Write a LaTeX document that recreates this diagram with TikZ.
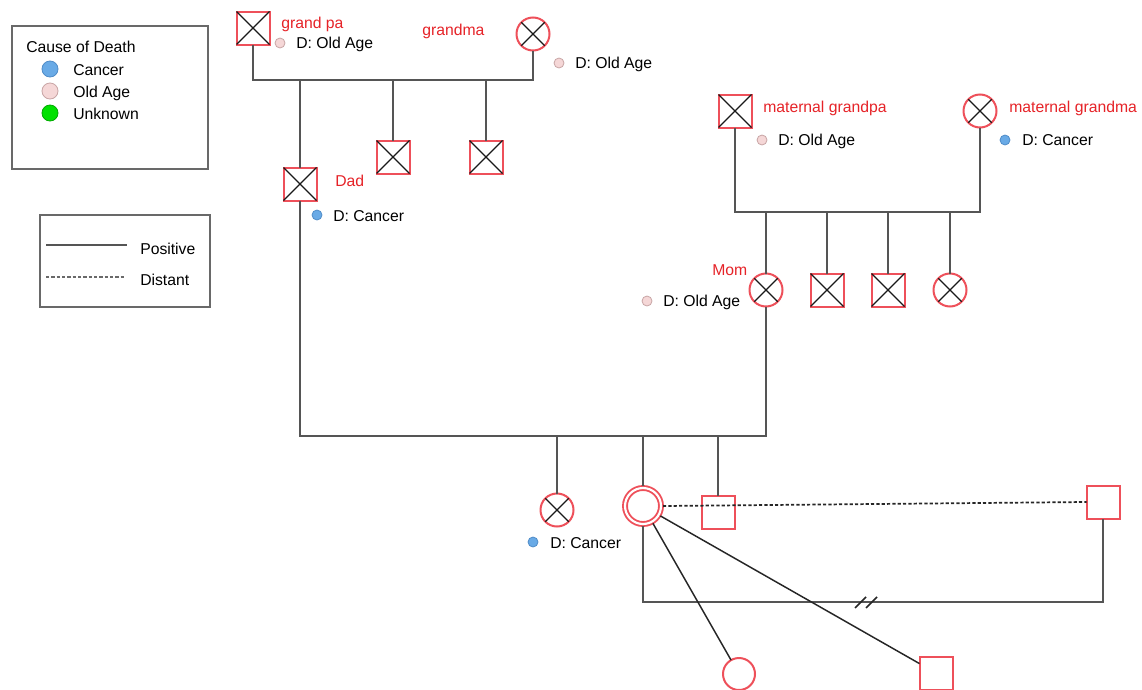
\documentclass[tikz,border=0pt]{standalone}
\usepackage{fontspec}
\setmainfont{Liberation Sans}
\usetikzlibrary{calc}
\definecolor{pedred}{RGB}{238,80,90}
\definecolor{pedtext}{RGB}{230,35,40}
\definecolor{linegray}{RGB}{85,85,85}
\definecolor{boxgray}{RGB}{105,105,105}
\definecolor{cancerblue}{RGB}{105,170,230}
\definecolor{cancerrim}{RGB}{80,140,200}
\definecolor{oldpink}{RGB}{245,215,215}
\definecolor{oldrim}{RGB}{200,165,165}
\definecolor{unkgreen}{RGB}{0,225,0}
\definecolor{unkrim}{RGB}{0,170,0}
\newcommand\crossx[1]{\draw[crossline] (#1.north west) -- (#1.south east) (#1.north east) -- (#1.south west);}
\begin{document}
\begin{tikzpicture}[x=0.75pt,y=-0.75pt,
  person/.style={draw=pedred, line width=1.5pt, inner sep=0pt, outer sep=0pt, minimum size=24.75pt},
  male/.style={person, rectangle},
  female/.style={person, circle},
  proband/.style={circle, draw=pedred, line width=1.4pt, double=white, double distance=1.6pt, inner sep=0pt, outer sep=1.5pt, minimum size=27pt},
  link/.style={draw=linegray, line width=1.5pt},
  distant/.style={draw=black!85, line width=1.3pt, dash pattern=on 2.4pt off 1.6pt},
  crossline/.style={draw=black!90, line width=0.9pt},
  frame/.style={draw=boxgray, line width=1.5pt},
  lbl/.style={anchor=base west, inner sep=0pt, font=\fontsize{11.8}{14}\selectfont, text=black},
  redlbl/.style={lbl, text=pedtext},
  dotc/.style={circle, inner sep=0pt, minimum size=7.5pt, line width=0.6pt, fill=cancerblue, draw=cancerrim},
  doto/.style={dotc, fill=oldpink, draw=oldrim},
  keydot/.style={circle, inner sep=0pt, minimum size=12pt, line width=0.6pt},
]
\useasboundingbox (0,0) rectangle (1142,689);
\fill[white] (0,0) rectangle (1142,689);

% ---------- legends ----------
\draw[frame] (12,26) rectangle (208,169);
\node[lbl] (kt) at (26,52) {Cause of Death};
\node[keydot, fill=cancerblue, draw=cancerrim] (k1) at (50,69) {};
\node[lbl] (k1t) at (73,75) {Cancer};
\node[keydot, fill=oldpink, draw=oldrim] (k2) at (50,91) {};
\node[lbl] (k2t) at (73,97) {Old Age};
\node[keydot, fill=unkgreen, draw=unkrim] (k3) at (50,113) {};
\node[lbl] (k3t) at (73,119) {Unknown};

\draw[frame] (40,215) rectangle (210,307);
\coordinate (l1a) at (46,245); \coordinate (l1b) at (127,245);
\coordinate (l2a) at (46,277); \coordinate (l2b) at (124,277);
\draw[link, line width=1.2pt] (l1a) -- (l1b);
\draw[draw=boxgray, line width=1.1pt, dash pattern=on 2.4pt off 1.6pt] (l2a) -- (l2b);
\node[lbl] (lpt) at (140,254) {Positive};
\node[lbl] (ldt) at (140,285) {Distant};

% ---------- people ----------
\node[male] (gp) at (253,28) {};
\node[female] (gm) at (533,34) {};
\node[male] (dad) at (300,184) {};
\node[male] (u1) at (393,157) {};
\node[male] (u2) at (486,157) {};

\node[male] (mgp) at (735,111) {};
\node[female] (mgm) at (980,111) {};
\node[female] (mom) at (766,290) {};
\node[male] (mu1) at (827,290) {};
\node[male] (mu2) at (888,290) {};
\node[female] (ma1) at (950,290) {};

\node[female] (sis) at (557,510) {};
\node[proband] (me) at (643,506) {};
\node[male] (ps) at (718,512.5) {};
\node[male] (rs) at (1103,502) {};
\node[female, minimum size=24pt] (bc) at (739,674) {};
\node[male] (bs) at (936,673) {};

\foreach \n in {gp,gm,dad,u1,u2,mgp,mgm,mom,mu1,mu2,ma1,sis} {\crossx{\n}}

% ---------- connectors ----------
\coordinate (m1) at (393,80);
\draw[link] (gp.south) |- (m1) -| (gm.south);
\foreach \c in {dad,u1,u2} {\draw[link] (\c.north |- m1) -- (\c.north);}

\coordinate (m2) at (850,212);
\draw[link] (mgp.south) |- (m2) -| (mgm.south);
\foreach \c in {mom,mu1,mu2,ma1} {\draw[link] (\c.north |- m2) -- (\c.north);}

\coordinate (m3) at (600,436);
\draw[link] (dad.south) |- (m3) -| (mom.south);
\foreach \c in {sis,me,ps} {\draw[link] (\c.north |- m3) -- (\c.north);}

\draw[distant] (me.east) -- (rs.west);
\coordinate (m4) at (866,602);
\draw[link] (me.south) |- (m4) -| (rs.south);
\draw[draw=black!85, line width=1.1pt] (me) -- (bc);
\draw[draw=black!85, line width=1.1pt] (me) -- (bs);
\draw[draw=black!85, line width=1.1pt] ($(m4)+(-11,6)$) -- ($(m4)+(0,-5)$);
\draw[draw=black!85, line width=1.1pt] ($(m4)+(0,6)$) -- ($(m4)+(11,-5)$);

% ---------- labels ----------
\node[redlbl] (gpl) at (281,28) {grand pa};
\node[doto] (gpd) at (280,43) {};
\node[lbl] (gpt) at (296,48) {D: Old Age};

\node[redlbl] (gml) at (422,35) {grandma};
\node[doto] (gmd) at (559,63) {};
\node[lbl] (gmt) at (575,68) {D: Old Age};

\node[redlbl] (dadl) at (335,186) {Dad};
\node[dotc] (dadd) at (317,215) {};
\node[lbl] (dadt) at (333,221) {D: Cancer};

\node[redlbl] (mgpl) at (763,112) {maternal grandpa};
\node[doto] (mgpd) at (762,140) {};
\node[lbl] (mgpt) at (778,145) {D: Old Age};

\node[redlbl] (mgml) at (1009,112) {maternal grandma};
\node[dotc] (mgmd) at (1005,140) {};
\node[lbl] (mgmt) at (1022,145) {D: Cancer};

\node[redlbl] (moml) at (712,275) {Mom};
\node[doto] (momd) at (647,301) {};
\node[lbl] (momt) at (663,306) {D: Old Age};

\node[dotc] (sisd) at (533,542) {};
\node[lbl] (sist) at (550,548) {D: Cancer};
\end{tikzpicture}
\end{document}
